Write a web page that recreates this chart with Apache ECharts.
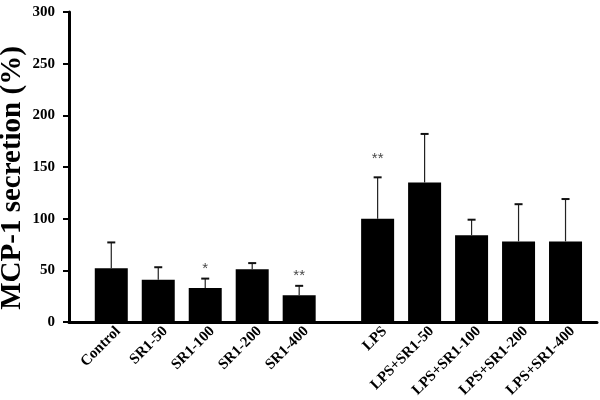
<!DOCTYPE html>
<html>
<head>
<meta charset="utf-8">
<script src="https://cdn.jsdelivr.net/npm/echarts@6/dist/echarts.min.js"></script>
<style>
  html, body { margin: 0; padding: 0; background: #fff; }
  #chart { width: 600px; height: 400px; }
</style>
</head>
<body>
<div id="chart"></div>
<script>
// groups: untreated and LPS-treated
const groupA = ['Control', 'SR1-50', 'SR1-100', 'SR1-200', 'SR1-400'];
const groupB = ['LPS', 'LPS+SR1-50', 'LPS+SR1-100', 'LPS+SR1-200', 'LPS+SR1-400'];
const meanValues = [52, 41, 33, 51, 26, 100, 135, 84, 78, 78];
const errValues = [25, 12, 9, 6, 9, 40, 47, 15, 36, 41];
const sigLabels = ['', '', '*', '', '**', '**', '', '', '', ''];
const sigY = [0, 0, 51, 0, 45, 158, 0, 0, 0, 0];
const yTicks = [0, 50, 100, 150, 200, 250, 300];
const yTitle = 'MCP-1 secretion (%)';

const categories = groupA.concat(groupB);
const groupGap = 0.67; // extra space between the two groups
const xPos = categories.map((c, i) => i + (i >= groupA.length ? groupGap : 0));
const labelShift = 0.15; // rotated labels sit a little right of the bar centre
const labelPos = xPos.map(p => p + labelShift);

const serif = '"Liberation Serif", "Times New Roman", serif';

const chart = echarts.init(document.getElementById('chart'));
chart.setOption({
  animation: false,
  grid: { left: 69, right: 3, top: 12, bottom: 78, outerBoundsMode: 'none' },
  // y axis title drawn as a rotated text so it can sit close to the edge
  graphic: [{
    type: 'text',
    x: 13,
    y: 178,
    rotation: Math.PI / 2,
    style: {
      text: yTitle,
      fontFamily: serif,
      fontWeight: 'bold',
      fontSize: 29,
      fill: '#000',
      align: 'center',
      verticalAlign: 'middle'
    }
  }],
  xAxis: {
    type: 'value',
    min: -0.9,
    max: 10.34,
    splitLine: { show: false },
    axisLine: { lineStyle: { color: '#000', width: 3 } },
    axisTick: { show: false },
    axisLabel: {
      customValues: labelPos,
      rotate: 45,
      margin: 7,
      fontFamily: serif,
      fontWeight: 'bold',
      fontSize: 15,
      color: '#000',
      formatter: function (v) {
        const i = labelPos.findIndex(p => Math.abs(p - v) < 1e-3);
        return i >= 0 ? categories[i] : '';
      }
    }
  },
  yAxis: {
    type: 'value',
    min: 0,
    max: 300,
    interval: 50,
    splitLine: { show: false },
    axisLine: { onZero: false, lineStyle: { color: '#000', width: 3 } },
    axisTick: { length: 6, lineStyle: { color: '#000', width: 2 } },
    axisLabel: {
      customValues: yTicks,
      margin: 14,
      fontFamily: serif,
      fontWeight: 'bold',
      fontSize: 15,
      color: '#000'
    }
  },
  series: [
    {
      type: 'bar',
      barWidth: 33,
      itemStyle: { color: '#000' },
      data: xPos.map((x, i) => [x, meanValues[i]]),
      z: 2
    },
    {
      type: 'custom',
      z: 3,
      data: xPos.map((x, i) => [x, meanValues[i], meanValues[i] + errValues[i]]),
      renderItem: function (params, api) {
        const base = api.coord([api.value(0), api.value(1)]);
        const top = api.coord([api.value(0), api.value(2)]);
        return {
          type: 'group',
          children: [
            {
              type: 'line',
              shape: { x1: base[0], y1: base[1], x2: top[0], y2: top[1] },
              style: { stroke: '#222', lineWidth: 1.2 }
            },
            {
              type: 'line',
              shape: { x1: top[0] - 4, y1: top[1], x2: top[0] + 4, y2: top[1] },
              style: { stroke: '#111', lineWidth: 2 }
            }
          ]
        };
      }
    },
    {
      type: 'scatter',
      symbolSize: 0,
      silent: true,
      data: xPos.map((x, i) => ({ value: [x, sigY[i]], label: { show: sigLabels[i] !== '', formatter: sigLabels[i] } })),
      label: {
        position: 'inside',
        fontFamily: '"Liberation Sans", Arial, sans-serif',
        fontSize: 15,
        color: '#111'
      }
    }
  ]
});
</script>
</body>
</html>
